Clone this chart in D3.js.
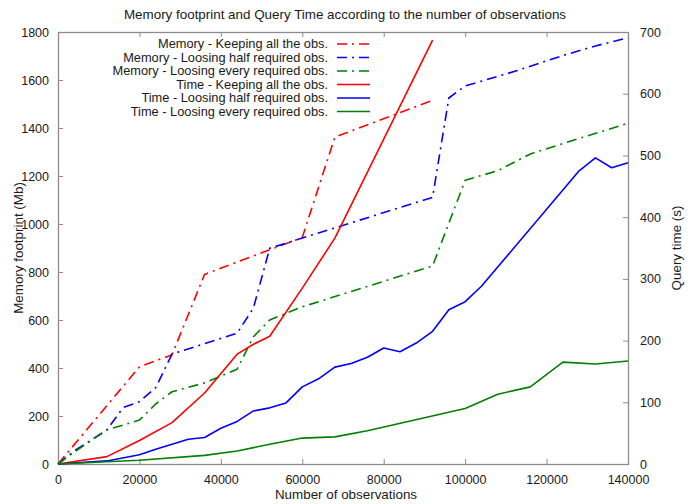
<!DOCTYPE html>
<html>
<head>
<meta charset="utf-8">
<script src="https://cdn.jsdelivr.net/npm/d3@7"></script>
<style>
  body { margin: 0; background: #fff; }
  svg text { font-family: "Liberation Sans", Arial, sans-serif; fill: #1a1a1a; }
</style>
</head>
<body>
<div id="chart"></div>
<script>
// values: [observations, value]
const memKeepAll = [[0, 0], [20000, 405], [28000, 455], [36000, 790], [60000, 944], [68000, 1362], [92000, 1515]];
const memLooseHalf = [[0, 0], [4000, 55], [12000, 142], [16000, 235], [20000, 260], [24000, 318], [28000, 458],
  [44000, 545], [48000, 650], [52000, 899], [92000, 1111], [96000, 1525], [100000, 1575], [112000, 1635],
  [124000, 1702], [132000, 1742], [140000, 1776]];
const memLooseEvery = [[0, 0], [4000, 50], [12000, 142], [20000, 183], [24000, 250], [28000, 301], [36000, 338],
  [44000, 395], [48000, 530], [52000, 600], [60000, 655], [92000, 825], [100000, 1182], [108000, 1222],
  [116000, 1292], [124000, 1335], [140000, 1420]];
const timeKeepAll = [[0, 0], [12000, 12], [20000, 38], [28000, 67], [36000, 115], [44000, 178], [48000, 194],
  [52000, 207], [60000, 285], [68000, 366], [92000, 687]];
const timeLooseHalf = [[0, 0], [12000, 5], [20000, 15], [24000, 24], [32000, 40], [36000, 43], [40000, 58],
  [44000, 69], [48000, 86], [52000, 91], [56000, 99], [60000, 125], [64000, 138], [68000, 157], [72000, 163],
  [76000, 173], [80000, 188], [84000, 182], [88000, 196], [92000, 215], [96000, 250], [100000, 263],
  [104000, 288], [128000, 475], [132000, 496], [136000, 480], [140000, 488]];
const timeLooseEvery = [[0, 0], [20000, 6], [36000, 14], [44000, 21], [52000, 32], [60000, 42], [68000, 44],
  [76000, 54], [100000, 90], [108000, 113], [116000, 125], [124000, 165], [132000, 162], [140000, 167]];

const legendLabels = ['Memory - Keeping all the obs.', 'Memory - Loosing half required obs.',
  'Memory - Loosing every required obs.', 'Time - Keeping all the obs.', 'Time - Loosing half required obs.',
  'Time - Loosing every required obs.'];
const xTicks = [0, 20000, 40000, 60000, 80000, 100000, 120000, 140000];
const yTicks = [0, 200, 400, 600, 800, 1000, 1200, 1400, 1600, 1800];
const y2Ticks = [0, 100, 200, 300, 400, 500, 600, 700];

const width = 692, height = 504;
const margin = { top: 32, right: 64, bottom: 40, left: 58 };
const innerW = width - margin.left - margin.right;
const innerH = height - margin.top - margin.bottom;
const labelSize = 13.4;

const svg = d3.select('#chart').append('svg')
  .attr('width', width)
  .attr('height', height);

const x = d3.scaleLinear().domain([0, 140000]).range([margin.left, margin.left + innerW]);
const y = d3.scaleLinear().domain([0, 1800]).range([margin.top + innerH, margin.top]);
const y2 = d3.scaleLinear().domain([0, 700]).range([margin.top + innerH, margin.top]);

const axisColor = '#8c8c8c';
const tick = 5;

// axes, gnuplot style: ticks pointing inwards, mirrored x ticks on top
function styleAxis(g) {
  g.select('.domain').remove();
  g.selectAll('.tick line').attr('stroke', axisColor).attr('stroke-width', 1);
  g.selectAll('.tick text').attr('font-size', 12.5);
}

svg.append('g')
  .attr('transform', `translate(0,${margin.top + innerH})`)
  .call(d3.axisBottom(x).tickValues(xTicks).tickFormat(d3.format('d')).tickSizeInner(-tick).tickPadding(8))
  .call(styleAxis)
  .selectAll('.tick text').attr('dy', '0.95em');

svg.append('g')
  .attr('transform', `translate(0,${margin.top})`)
  .call(d3.axisTop(x).tickValues(xTicks).tickFormat('').tickSizeInner(-tick))
  .call(styleAxis);

svg.append('g')
  .attr('transform', `translate(${margin.left},0)`)
  .call(d3.axisLeft(y).tickValues(yTicks).tickFormat(d3.format('d')).tickSizeInner(-tick).tickPadding(9))
  .call(styleAxis);

svg.append('g')
  .attr('transform', `translate(${margin.left + innerW},0)`)
  .call(d3.axisRight(y2).tickValues(y2Ticks).tickFormat(d3.format('d')).tickSizeInner(-tick).tickPadding(12))
  .call(styleAxis);

svg.append('rect')
  .attr('x', margin.left + 0.5)
  .attr('y', margin.top + 0.5)
  .attr('width', innerW)
  .attr('height', innerH)
  .attr('fill', 'none')
  .attr('stroke', axisColor)
  .attr('stroke-width', 1.3);

// lines
const series = [
  { data: memKeepAll, scale: y, color: '#ff0000', dash: '10,5,2,5' },
  { data: memLooseHalf, scale: y, color: '#0000ff', dash: '10,5,2,5' },
  { data: memLooseEvery, scale: y, color: '#008000', dash: '10,5,2,5' },
  { data: timeKeepAll, scale: y2, color: '#ff0000', dash: null },
  { data: timeLooseHalf, scale: y2, color: '#0000ff', dash: null },
  { data: timeLooseEvery, scale: y2, color: '#008000', dash: null }
];

series.forEach(s => {
  const line = d3.line().x(d => x(d[0])).y(d => s.scale(d[1]));
  svg.append('path')
    .datum(s.data)
    .attr('d', line)
    .attr('fill', 'none')
    .attr('stroke', s.color)
    .attr('stroke-width', 1.6)
    .attr('stroke-linejoin', 'round')
    .attr('stroke-dasharray', s.dash);
});

// legend
const legend = svg.append('g').attr('class', 'legend');
legendLabels.forEach((label, i) => {
  const ly = 44 + i * 13.5;
  legend.append('text')
    .attr('x', 328)
    .attr('y', ly)
    .attr('dy', '0.35em')
    .attr('text-anchor', 'end')
    .attr('font-size', 12.8)
    .text(label);
  legend.append('line')
    .attr('x1', 337).attr('x2', 370)
    .attr('y1', ly).attr('y2', ly)
    .attr('stroke', series[i].color)
    .attr('stroke-width', 1.6)
    .attr('stroke-dasharray', series[i].dash);
});

// titles
svg.append('text')
  .attr('x', 345).attr('y', 19)
  .attr('text-anchor', 'middle')
  .attr('font-size', labelSize)
  .text('Memory footprint and Query Time according to the number of observations');

svg.append('text')
  .attr('x', 346).attr('y', 499)
  .attr('text-anchor', 'middle')
  .attr('font-size', labelSize)
  .text('Number of observations');

svg.append('text')
  .attr('transform', `translate(23,${margin.top + innerH / 2}) rotate(-90)`)
  .attr('text-anchor', 'middle')
  .attr('font-size', labelSize)
  .text('Memory footprint (Mb)');

svg.append('text')
  .attr('transform', `translate(681,${margin.top + innerH / 2}) rotate(-90)`)
  .attr('text-anchor', 'middle')
  .attr('font-size', labelSize)
  .text('Query time (s)');
</script>
</body>
</html>
